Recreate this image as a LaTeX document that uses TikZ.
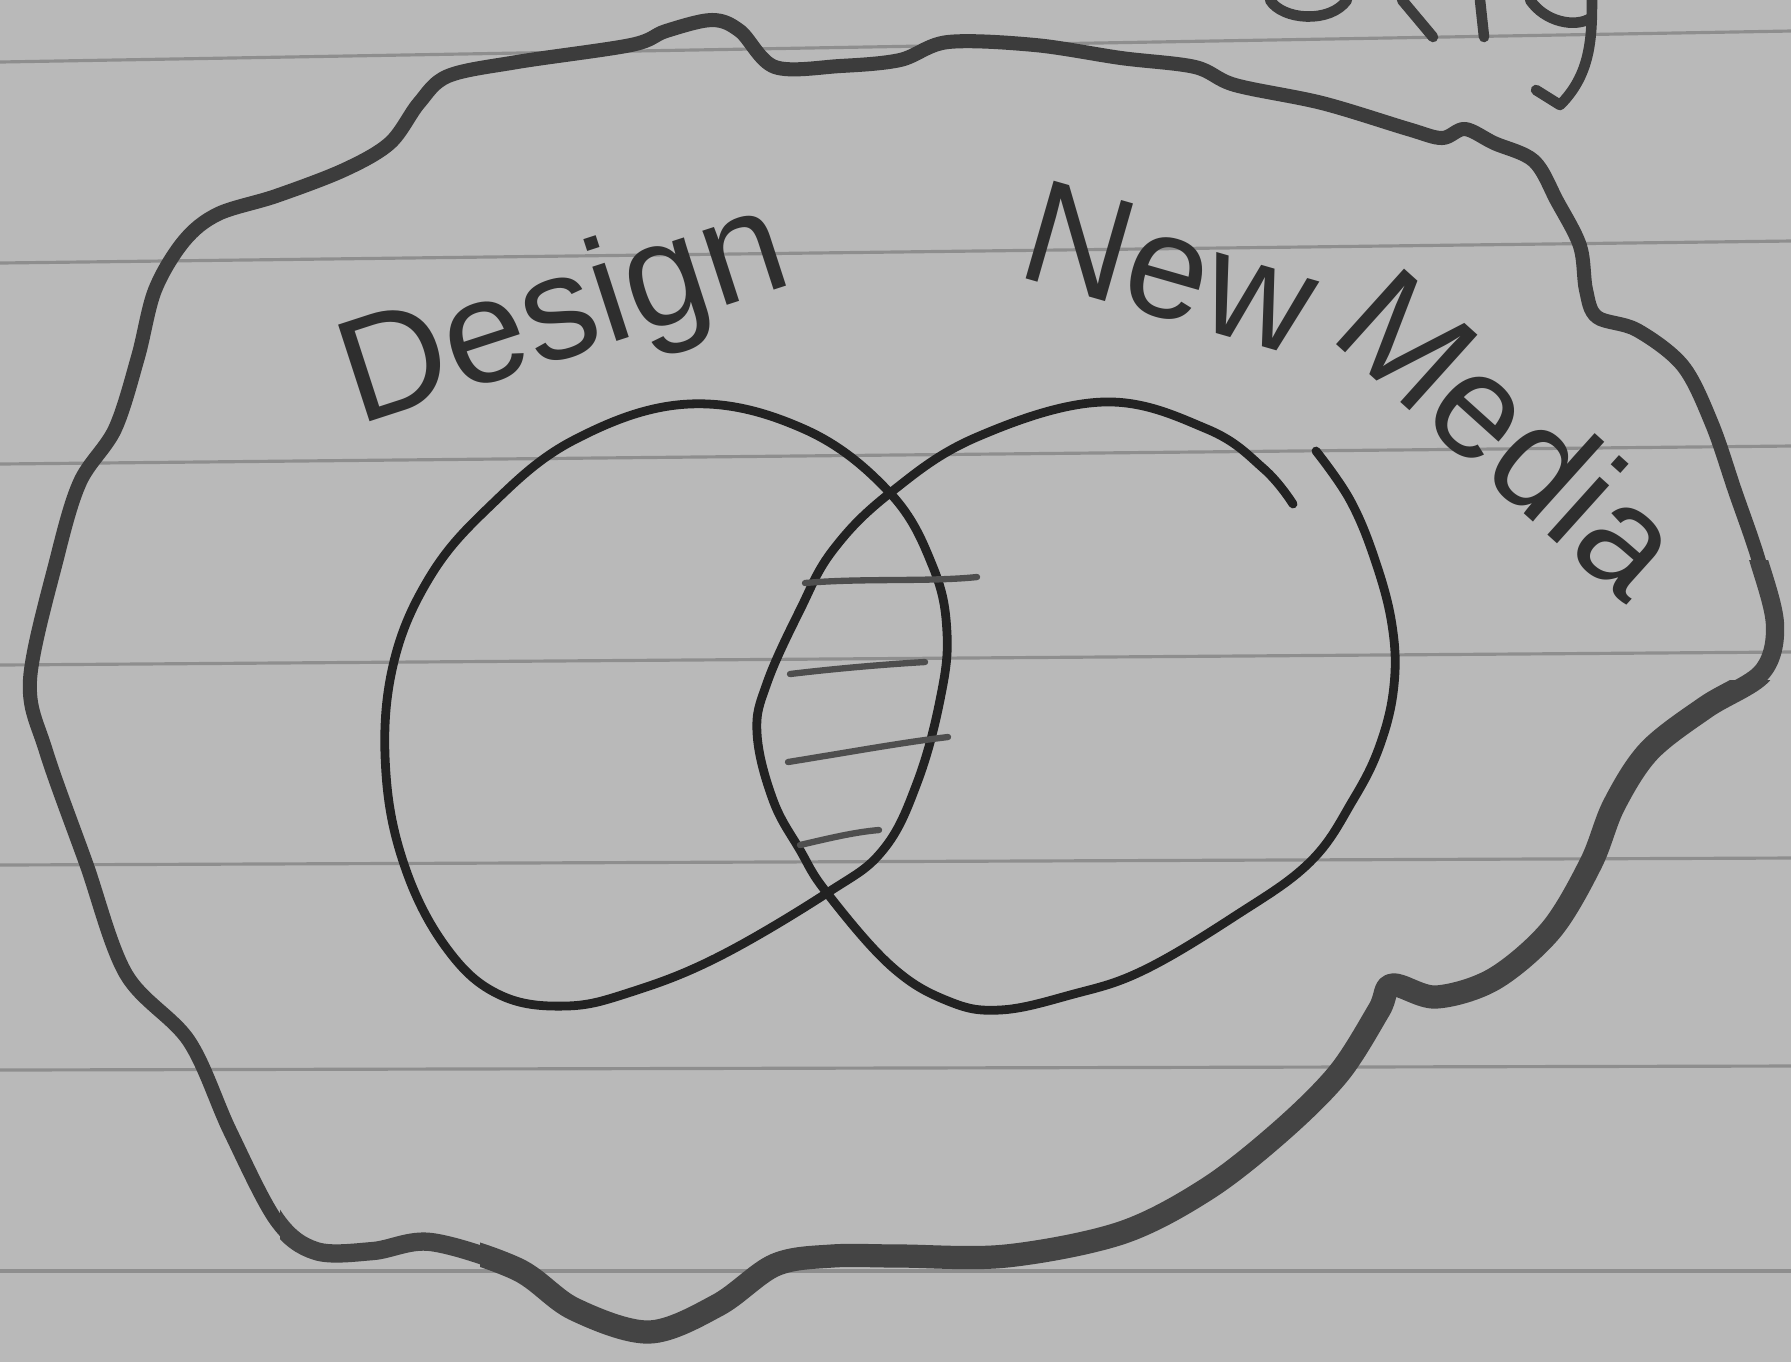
\documentclass[tikz,border=0pt]{standalone}
\usepackage{fontspec}
\setmainfont{Liberation Sans}
\definecolor{paperfill}{HTML}{B9B9B9}
\definecolor{rulecol}{HTML}{8E8E8E}
\definecolor{pencil}{HTML}{3C3C3C}
\definecolor{pencillight}{HTML}{444444}
\definecolor{ink}{HTML}{222222}
\definecolor{hatchcol}{HTML}{4E4E4E}
\definecolor{textcol}{HTML}{2E2E2E}
\begin{document}
\begin{tikzpicture}[x=0.01cm,y=-0.01cm,
  paper/.style={fill=paperfill},
  rule/.style={draw=rulecol, line width=0.9pt},
  blob/.style={draw=pencil, line width=4pt, line join=round, line cap=round},
  blobmid/.style={draw=pencillight, line width=5.2pt, line join=round, line cap=round},
  blobheavy/.style={draw=pencillight, line width=6.6pt, line join=round, line cap=round},
  ring/.style={draw=ink, line width=2.5pt, line cap=round, line join=round},
  hatch/.style={draw=hatchcol, line width=1.8pt, line cap=round},
  frag/.style={draw=pencil, line width=3pt, line cap=round, line join=round},
  handlabel/.style={font=\fontsize{42}{42}\selectfont, text=textcol, inner sep=0pt}]
\useasboundingbox (0,0) rectangle (1791,1362);
\fill[paper] (0,0) rectangle (1791,1362);
% ruled lines
\draw[rule] (0,62) -- (1791,31);
\draw[rule] (0,263) -- (1791,241);
\draw[rule] (0,464) -- (1791,446);
\draw[rule] (0,665) -- (1791,652);
\draw[rule] (0,865) -- (1791,858);
\draw[rule] (0,1070) -- (1791,1066);
\draw[rule] (0,1271) -- (1791,1271);
% cut-off word fragments at the top edge
\draw[frag] (1270,0) .. controls (1282,20) and (1330,24) .. (1347,0);
\draw[frag] (1402,0) -- (1433,37);
\draw[frag] (1480,0) -- (1484,37);
\draw[frag] (1530,0) .. controls (1545,22) and (1575,28) .. (1591,18);
\draw[frag] (1592,0) .. controls (1592,40) and (1590,75) .. (1560,105) -- (1536,90);
% outer blob, base stroke
\draw[blob] plot[smooth cycle, tension=0.55] coordinates {
 (712,20) (740,31) (775,67) (840,66) (900,60) (948,42) (1035,45) (1121,58)
 (1195,67) (1235,85) (1322,103) (1408,129) (1442,138) (1465,129) (1494,143)
 (1534,161) (1557,201) (1580,246) (1586,290) (1597,317) (1637,330) (1683,366)
 (1712,424) (1735,491) (1758,558) (1775,625) (1762,672) (1706,707) (1649,751)
 (1614,805) (1591,863) (1551,930) (1494,979) (1436,997) (1392,985) (1379,1010)
 (1339,1073) (1281,1131) (1207,1189) (1121,1233) (1006,1256) (900,1256)
 (832,1256) (775,1265) (718,1305) (649,1332) (574,1309) (517,1269) (431,1242)
 (373,1251) (316,1251) (276,1220) (230,1131) (189,1041) (126,974) (86,863)
 (46,751) (30,680) (57,558) (80,482) (115,429) (138,357) (155,290) (184,241)
 (218,214) (276,196) (344,170) (390,143) (419,103) (448,76) (517,62) (631,45)
 (666,31)};
% heavier pencil on the lower right
\begin{scope}
\clip (1791,560) -- (1791,1362) -- (280,1362) -- (280,1180) -- (1000,1180)
      -- (1400,900) -- (1650,560) -- cycle;
\draw[blobmid] plot[smooth cycle, tension=0.55] coordinates {
 (712,20) (740,31) (775,67) (840,66) (900,60) (948,42) (1035,45) (1121,58)
 (1195,67) (1235,85) (1322,103) (1408,129) (1442,138) (1465,129) (1494,143)
 (1534,161) (1557,201) (1580,246) (1586,290) (1597,317) (1637,330) (1683,366)
 (1712,424) (1735,491) (1758,558) (1775,625) (1762,672) (1706,707) (1649,751)
 (1614,805) (1591,863) (1551,930) (1494,979) (1436,997) (1392,985) (1379,1010)
 (1339,1073) (1281,1131) (1207,1189) (1121,1233) (1006,1256) (900,1256)
 (832,1256) (775,1265) (718,1305) (649,1332) (574,1309) (517,1269) (431,1242)
 (373,1251) (316,1251) (276,1220) (230,1131) (189,1041) (126,974) (86,863)
 (46,751) (30,680) (57,558) (80,482) (115,429) (138,357) (155,290) (184,241)
 (218,214) (276,196) (344,170) (390,143) (419,103) (448,76) (517,62) (631,45)
 (666,31)};
\end{scope}
\begin{scope}
\clip (1791,680) -- (1791,1362) -- (480,1362) -- (480,1200) -- (1000,1200)
      -- (1400,950) -- (1690,680) -- cycle;
\draw[blobheavy] plot[smooth cycle, tension=0.55] coordinates {
 (712,20) (740,31) (775,67) (840,66) (900,60) (948,42) (1035,45) (1121,58)
 (1195,67) (1235,85) (1322,103) (1408,129) (1442,138) (1465,129) (1494,143)
 (1534,161) (1557,201) (1580,246) (1586,290) (1597,317) (1637,330) (1683,366)
 (1712,424) (1735,491) (1758,558) (1775,625) (1762,672) (1706,707) (1649,751)
 (1614,805) (1591,863) (1551,930) (1494,979) (1436,997) (1392,985) (1379,1010)
 (1339,1073) (1281,1131) (1207,1189) (1121,1233) (1006,1256) (900,1256)
 (832,1256) (775,1265) (718,1305) (649,1332) (574,1309) (517,1269) (431,1242)
 (373,1251) (316,1251) (276,1220) (230,1131) (189,1041) (126,974) (86,863)
 (46,751) (30,680) (57,558) (80,482) (115,429) (138,357) (155,290) (184,241)
 (218,214) (276,196) (344,170) (390,143) (419,103) (448,76) (517,62) (631,45)
 (666,31)};
\end{scope}
% Design circle
\draw[ring] plot[smooth cycle, tension=0.65] coordinates {
 (689,404) (804,429) (890,493) (933,567) (947,633) (940,700) (917,783)
 (883,850) (827,893) (718,957) (631,992) (566,1006) (500,995) (448,950)
 (406,870) (386,774) (392,670) (428,580) (488,508) (574,440)};
% New Media circle (open stroke)
\draw[ring] plot[smooth, tension=0.65] coordinates {
 (1293,504) (1264,469) (1207,429) (1103,402) (977,437) (890,493) (833,550)
 (800,610) (767,683) (757,733) (773,800) (800,850) (827,893) (891,966)
 (948,1001) (1000,1010) (1070,995) (1142,971) (1235,916) (1310,862)
 (1353,800) (1380,745) (1394,685) (1392,625) (1375,560) (1350,500) (1316,451)};
% hatching in the overlap
\draw[hatch] (805,583) .. controls (860,578) and (930,582) .. (977,577);
\draw[hatch] (790,674) .. controls (840,668) and (890,664) .. (925,662);
\draw[hatch] (788,762) .. controls (850,752) and (905,742) .. (948,737);
\draw[hatch] (800,845) .. controls (830,838) and (855,832) .. (879,830);
% labels
\node[handlabel, rotate=18] (design) at (565,318) {Design};
\node[handlabel, rotate=-16] (new) at (1170,268) {New};
\node[handlabel, rotate=-42] (media) at (1512,432) {Media};
\end{tikzpicture}
\end{document}
